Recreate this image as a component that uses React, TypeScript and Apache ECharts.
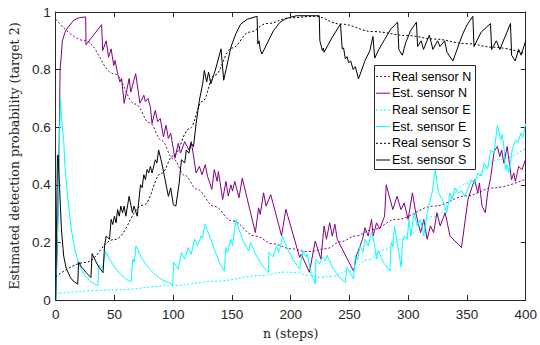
import React, { useEffect, useRef } from "react";
import * as echarts from "echarts";

const xTicks = [0, 50, 100, 150, 200, 250, 300, 350, 400];
const yTicks = [0, 0.2, 0.4, 0.6, 0.8, 1];

const seriesNames = [
  "Real sensor N",
  "Est. sensor N",
  "Real sensor E",
  "Est. sensor E",
  "Real sensor S",
  "Est. sensor S",
];

const realN: [number, number][] = [
  [0, 0.975], [25, 0.9], [50, 0.785], [68, 0.68], [80, 0.615], [90, 0.555], [100, 0.49],
  [110, 0.432], [120, 0.385], [135, 0.325], [150, 0.275], [170, 0.222], [185, 0.195],
  [200, 0.178], [215, 0.168], [230, 0.178], [243, 0.203], [255, 0.222], [270, 0.245],
  [290, 0.28], [322, 0.326], [350, 0.362], [372, 0.389], [400, 0.42],
];

const estN: [number, number][] = [
  [0, 0], [1.5, 0.2], [2.6, 0.44], [3.8, 0.8], [5.7, 0.9], [8, 0.93], [10, 0.944], [15.5, 0.972],
  [20, 0.98], [25.5, 0.983], [25.8, 0.886], [39.1, 0.956], [40, 0.866], [43, 0.9], [45, 0.843],
  [47.2, 0.872], [49.4, 0.814], [50.5, 0.832], [52.7, 0.786], [54.7, 0.757], [56.1, 0.769],
  [58.3, 0.683], [62.5, 0.769], [63.9, 0.722], [68.1, 0.786], [71.7, 0.683], [75, 0.711],
  [76.4, 0.688], [78.5, 0.7], [80.6, 0.671], [82, 0.613], [84.8, 0.659], [86.7, 0.619], [89, 0.63],
  [91.7, 0.567], [93.9, 0.607], [95.9, 0.561], [97.9, 0.579], [101.5, 0.492], [104.3, 0.544],
  [106.2, 0.51], [109.8, 0.55], [113.4, 0.521], [115.4, 0.55], [119.5, 0.441], [122.3, 0.464],
  [124.5, 0.435], [127.3, 0.47], [129.2, 0.43], [132.9, 0.384], [135, 0.453], [137.4, 0.412],
  [138.5, 0.446], [142.1, 0.349], [144.9, 0.412], [146.9, 0.361], [149.1, 0.4], [150.5, 0.378],
  [152.4, 0.412], [156, 0.355], [158.8, 0.423], [169.9, 0.234], [172.7, 0.32], [174.1, 0.297],
  [176.9, 0.372], [179.1, 0.326], [183, 0.366], [186.7, 0.309], [192.2, 0.223], [195.9, 0.315],
  [207.6, 0.148], [209, 0.159], [215.9, 0.096], [220.9, 0.205], [225.7, 0.142], [228.4, 0.257],
  [230.4, 0.211], [233.2, 0.268], [235.4, 0.222], [237.6, 0.263], [239.6, 0.211], [253.5, 0.1],
  [256.3, 0.159], [259.1, 0.188], [261.1, 0.211], [263.2, 0.251], [266, 0.222], [268.8, 0.28],
  [270.2, 0.222], [273, 0.268], [275.7, 0.246], [279.9, 0.291], [281.3, 0.4], [286.9, 0.314],
  [290.5, 0.36], [293.8, 0.314], [296.6, 0.337], [299.9, 0.28], [303.6, 0.372], [306.4, 0.303],
  [310.5, 0.234], [313.3, 0.28], [316.1, 0.211], [318.9, 0.257], [321.6, 0.234], [324.4, 0.303],
  [327.2, 0.257], [331.4, 0.303], [335.6, 0.222], [345.3, 0.182], [350.9, 0.349], [354.5, 0.395],
  [356.4, 0.418], [359.2, 0.372], [360.6, 0.406], [362.8, 0.326], [365.6, 0.303], [367.6, 0.372],
  [370.3, 0.43], [373.1, 0.516], [375.9, 0.533], [377.9, 0.498], [379.5, 0.521], [381.4, 0.475],
  [384.2, 0.533], [387.9, 0.418], [389.8, 0.441], [391.2, 0.412], [394, 0.464], [396.8, 0.452],
  [400, 0.49],
];

const realE: [number, number][] = [
  [0, 0.022], [50, 0.035], [100, 0.05], [135, 0.065], [175, 0.085], [195, 0.097], [205, 0.095],
  [215, 0.085], [225, 0.078], [235, 0.082], [250, 0.1], [266, 0.14], [280, 0.175], [294, 0.21],
  [322, 0.29], [350, 0.405], [377, 0.487], [400, 0.527],
];

const estE: [number, number][] = [
  [0, 0], [2, 0.3], [4, 0.7], [5, 0.63], [6.8, 0.556], [8, 0.46], [9.6, 0.383], [12, 0.29],
  [13.8, 0.234], [16, 0.18], [19.4, 0.13], [22, 0.105], [25, 0.084], [30, 0.063], [36, 0.05],
  [36.8, 0.12], [40, 0.11], [42.5, 0.168], [46, 0.14], [50, 0.115], [55, 0.09], [60, 0.072],
  [64.2, 0.062], [65.6, 0.142], [67, 0.131], [68.3, 0.188], [72, 0.155], [76, 0.128], [80, 0.107],
  [85, 0.087], [90, 0.072], [95, 0.062], [99.5, 0.053], [100.4, 0.131], [104.3, 0.107],
  [107, 0.165], [109.8, 0.142], [112.6, 0.182], [115.4, 0.159], [118.1, 0.211], [120.9, 0.188],
  [123.7, 0.222], [125, 0.215], [127, 0.263], [132, 0.21], [136, 0.165], [140, 0.125],
  [143.5, 0.1], [144.9, 0.182], [146.3, 0.165], [149.1, 0.211], [150.5, 0.188], [153.3, 0.28],
  [156, 0.245], [160, 0.2], [164.4, 0.171], [165.8, 0.2], [170, 0.16], [175, 0.125], [181, 0.095],
  [181.5, 0.165], [185, 0.15], [188, 0.188], [189.5, 0.165], [191, 0.18], [193, 0.222],
  [197, 0.18], [202, 0.14], [207.6, 0.107], [210.3, 0.171], [213, 0.15], [214, 0.16], [217, 0.1],
  [221, 0.056], [221.4, 0.142], [224.5, 0.125], [227, 0.148], [229.5, 0.135], [231, 0.155],
  [232.5, 0.14], [236, 0.11], [241, 0.08], [246.5, 0.061], [247.9, 0.113], [253.5, 0.073],
  [254.9, 0.154], [257, 0.14], [259, 0.188], [261.5, 0.165], [263.2, 0.211], [266, 0.188],
  [268.8, 0.234], [271, 0.2], [273, 0.142], [274.4, 0.171], [279, 0.13], [284.5, 0.1],
  [285.5, 0.2], [287, 0.185], [288.3, 0.257], [291, 0.19], [294, 0.115], [295, 0.2],
  [296.6, 0.222], [299, 0.21], [300.8, 0.28], [302.2, 0.222], [305, 0.303], [307.7, 0.257],
  [310.5, 0.28], [313.3, 0.222], [316.1, 0.303], [320.3, 0.372], [323, 0.452], [325.8, 0.372],
  [329, 0.35], [332.8, 0.303], [335.6, 0.372], [337.5, 0.35], [339.8, 0.389], [342.5, 0.37],
  [345.3, 0.38], [348, 0.36], [350.9, 0.385], [353.6, 0.418], [356.4, 0.405], [359.2, 0.441],
  [362, 0.43], [364.7, 0.475], [367.5, 0.455], [370.3, 0.521], [373, 0.51], [375.9, 0.607],
  [378.7, 0.556], [380, 0.575], [381.4, 0.533], [382.8, 0.452], [384.2, 0.47], [385.6, 0.441],
  [388.4, 0.521], [391.2, 0.556], [393, 0.545], [396, 0.579], [397.5, 0.565], [400, 0.613],
];

const realS: [number, number][] = [
  [0, 0.08], [25, 0.13], [50, 0.21], [75, 0.33], [90, 0.44], [100, 0.5], [114, 0.595],
  [125, 0.69], [135, 0.78], [150, 0.875], [165, 0.93], [180, 0.96], [200, 0.98], [220, 0.985],
  [243, 0.958], [270, 0.932], [300, 0.918], [322, 0.906], [350, 0.89], [372, 0.878], [400, 0.855],
];

const estS: [number, number][] = [
  [0, 0], [1.5, 0.5], [2.1, 0.504], [3, 0.42], [4, 0.326], [5, 0.24], [6.8, 0.153], [9, 0.11],
  [12.7, 0.077], [15, 0.066], [18.8, 0.055], [19.5, 0.132], [22, 0.115], [26, 0.095], [30, 0.078],
  [31, 0.161], [34, 0.135], [37, 0.113], [40.3, 0.095], [41.6, 0.188], [43, 0.222], [45.8, 0.211],
  [47.2, 0.28], [48.6, 0.262], [50, 0.291], [51.4, 0.268], [52.7, 0.314], [54.1, 0.291],
  [55.5, 0.326], [56.9, 0.303], [58.3, 0.326], [59.7, 0.291], [62.5, 0.36], [65.3, 0.303],
  [66.7, 0.326], [69.4, 0.291], [72.2, 0.4], [73.6, 0.39], [75, 0.435], [76.4, 0.418],
  [77.8, 0.453], [79.2, 0.441], [80.6, 0.464], [82, 0.441], [84.8, 0.487], [86.2, 0.476],
  [87.6, 0.521], [90.3, 0.476], [93.1, 0.418], [95.9, 0.36], [97.9, 0.389], [100.1, 0.331],
  [102.3, 0.326], [105.1, 0.406], [107, 0.487], [109.8, 0.476], [111.2, 0.521], [113.4, 0.51],
  [115.4, 0.544], [117.3, 0.533], [119.5, 0.613], [122.3, 0.694], [125.1, 0.751], [126.5, 0.797],
  [128.5, 0.757], [130.1, 0.791], [132.1, 0.751], [134.9, 0.786], [136.6, 0.809], [140.7, 0.872],
  [143, 0.763], [145, 0.8], [149.1, 0.878], [153.3, 0.924], [157.4, 0.958], [163, 0.975],
  [171.4, 0.985], [172, 0.889], [173, 0.9], [174.1, 0.87], [175.5, 0.854], [179.7, 0.889],
  [185.3, 0.935], [190.8, 0.964], [195, 0.975], [199.2, 0.981], [205, 0.987], [224.3, 0.987],
  [224.8, 0.9], [227, 0.866], [227.8, 0.875], [228.4, 0.86], [235, 0.91], [242.4, 0.958],
  [243.8, 0.872], [245, 0.875], [246.5, 0.837], [248, 0.845], [249.3, 0.824], [251, 0.83],
  [253.2, 0.8], [255, 0.81], [257.7, 0.768], [263.2, 0.831], [267.4, 0.866], [270, 0.915],
  [271.5, 0.84], [275, 0.87], [280, 0.905], [285, 0.94], [291, 0.965], [292, 0.87], [295, 0.85],
  [298, 0.895], [302, 0.935], [307, 0.965], [308, 0.88], [311, 0.9], [313, 0.87], [318, 0.92],
  [321, 0.87], [325, 0.9], [327, 0.88], [331, 0.9], [333, 0.86], [338, 0.83], [342, 0.875],
  [346, 0.92], [350, 0.955], [355, 0.985], [356, 0.88], [362, 0.93], [370, 0.96], [371, 0.87],
  [375, 0.9], [378, 0.87], [384, 0.93], [387, 0.96], [388, 0.85], [391, 0.83], [394, 0.87],
  [396, 0.85], [400, 0.9],
];

const PURPLE = "#800080";
const CYAN = "#00ffff";
const BLACK = "#000000";
const AXIS = "#262626";

const seriesColors = [PURPLE, PURPLE, CYAN, CYAN, BLACK, BLACK];
const seriesDashed = [true, false, true, false, true, false];
const DASH = [2, 2];

export default function App() {
  const ref = useRef<HTMLDivElement>(null);

  useEffect(() => {
    if (!ref.current) return;
    const chart = echarts.init(ref.current, undefined, { renderer: "svg" });

    const mk = (i: number, data: [number, number][], smooth: boolean) => ({
      name: seriesNames[i],
      type: "line",
      data,
      showSymbol: false,
      symbol: "none",
      smooth: smooth ? 0.4 : false,
      smoothMonotone: smooth ? "x" : undefined,
      lineStyle: { color: seriesColors[i], width: 1, type: seriesDashed[i] ? DASH : "solid" },
      itemStyle: { color: seriesColors[i] },
      emphasis: { disabled: true },
      silent: true,
    });

    const tickLabelStyle = { color: AXIS, fontSize: 13.5, fontFamily: "Liberation Sans, Arial, sans-serif" };
    const nameStyle = { color: AXIS, fontSize: 12.6, fontFamily: "DejaVu Serif, serif" };

    // legend drawn with graphic elements
    const lgX = 374.5, lgY = 65.5, lgW = 101, lgH = 104, rowH = 16.7, firstRow = 76.5;
    const legendChildren: any[] = [
      {
        type: "rect",
        shape: { x: lgX, y: lgY, width: lgW, height: lgH },
        style: { fill: "#ffffff", stroke: AXIS, lineWidth: 1 },
      },
    ];
    seriesNames.forEach((nm, i) => {
      const cy = firstRow + i * rowH;
      legendChildren.push({
        type: "line",
        shape: { x1: 376, y1: cy, x2: 390, y2: cy },
        style: {
          stroke: seriesColors[i],
          lineWidth: 1,
          lineDash: seriesDashed[i] ? DASH : null,
        },
      });
      legendChildren.push({
        type: "text",
        x: 392,
        y: cy,
        style: {
          text: nm,
          fill: "#000",
          fontSize: 12.5,
          fontFamily: "Liberation Sans, Arial, sans-serif",
          textAlign: "left",
          textVerticalAlign: "middle",
        },
      });
    });

    chart.setOption({
      animation: false,
      backgroundColor: "#ffffff",
      grid: { left: 51.5, right: 9.5, top: 12, bottom: 42.5, containLabel: false },
      graphic: [{ type: "group", z: 100, children: legendChildren }],
      xAxis: [
        {
          type: "value",
          min: xTicks[0],
          max: xTicks[xTicks.length - 1],
          interval: xTicks[1] - xTicks[0],
          position: "bottom",
          axisLine: { onZero: false, lineStyle: { color: AXIS, width: 1 } },
          axisTick: { inside: true, length: 5, lineStyle: { color: AXIS } },
          axisLabel: { ...tickLabelStyle, margin: 7 },
          splitLine: { show: false },
          name: "n (steps)",
          nameLocation: "middle",
          nameGap: 27,
          nameTextStyle: nameStyle,
        },
        {
          type: "value",
          min: xTicks[0],
          max: xTicks[xTicks.length - 1],
          interval: xTicks[1] - xTicks[0],
          position: "top",
          axisLine: { onZero: false, lineStyle: { color: AXIS, width: 1 } },
          axisTick: { inside: true, length: 5, lineStyle: { color: AXIS } },
          axisLabel: { show: false },
          splitLine: { show: false },
        },
      ],
      yAxis: [
        {
          type: "value",
          min: yTicks[0],
          max: yTicks[yTicks.length - 1],
          interval: 0.2,
          position: "left",
          axisLine: { show: true, onZero: false, lineStyle: { color: AXIS, width: 1 } },
          axisTick: { show: true, inside: true, length: 5, lineStyle: { color: AXIS } },
          axisLabel: { ...tickLabelStyle, margin: 5 },
          splitLine: { show: false },
          name: "Estimated detection probability (target 2)",
          nameLocation: "middle",
          nameGap: 29,
          nameTextStyle: nameStyle,
        },
        {
          type: "value",
          min: yTicks[0],
          max: yTicks[yTicks.length - 1],
          interval: 0.2,
          position: "right",
          axisLine: { show: true, onZero: false, lineStyle: { color: AXIS, width: 1 } },
          axisTick: { show: true, inside: true, length: 5, lineStyle: { color: AXIS } },
          axisLabel: { show: false },
          splitLine: { show: false },
        },
      ],
      series: [
        mk(0, realN, true),
        mk(1, estN, false),
        mk(2, realE, true),
        mk(3, estE, false),
        mk(4, realS, true),
        mk(5, estS, false),
      ],
    });

    return () => chart.dispose();
  }, []);

  return (
    <div
      ref={ref}
      style={{ position: "fixed", left: 0, top: 0, width: 540, height: 345, background: "#fff" }}
    />
  );
}
